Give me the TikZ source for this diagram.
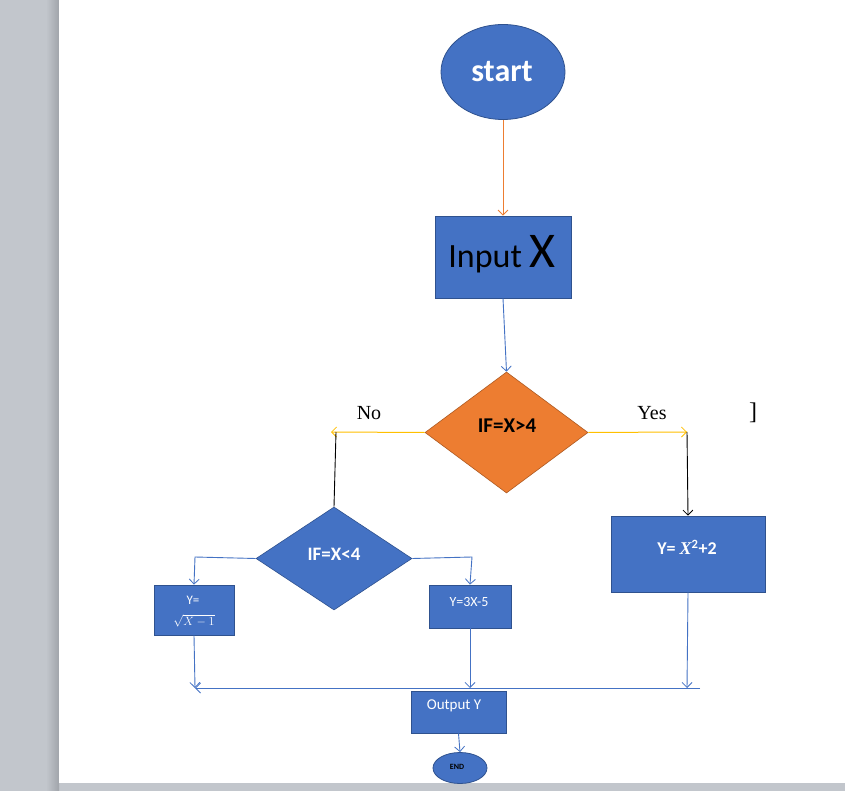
\documentclass[tikz,border=0pt]{standalone}
\usepackage{fontspec}
\setmainfont{Carlito}
\newfontfamily\timesf{Liberation Serif}
\usetikzlibrary{shapes.geometric,arrows.meta}
\definecolor{obl}{HTML}{4472C4}
\definecolor{obd}{HTML}{2F528F}
\definecolor{oor}{HTML}{ED7D31}
\definecolor{oorD}{HTML}{AE5A21}
\definecolor{oye}{HTML}{FFC000}
\definecolor{bggray}{HTML}{C2C6CC}
\definecolor{shad}{HTML}{A0A4AA}
\tikzset{
  x=1pt,y=-1pt,
  boxs/.style={draw=obd,fill=obl,line width=0.8pt,rectangle,inner sep=0pt},
  ells/.style={draw=obd,fill=obl,line width=0.8pt,ellipse,inner sep=0pt},
  dias/.style={diamond,inner sep=0pt,line width=0.6pt},
  tip/.style={-{Straight Barb[length=5pt,width=10pt,line width=0.8pt]}},
  bl/.style={draw=obl,line width=0.9pt},
  wt/.style={text=white,font=\bfseries},
}
\begin{document}
\begin{tikzpicture}
\useasboundingbox (0,0) rectangle (845,791);
% page background
\fill[bggray] (0,0) rectangle (845,791);
\shade[left color=bggray,right color=shad] (46,0) rectangle (59,791);
\fill[white] (59,0) rectangle (845,783);
% nodes
\node[ells,minimum width=124,minimum height=95] (start) at (503,72) {};
\node[wt,font=\bfseries\fontsize{32}{34}\selectfont] (starttxt) at (502,72) {start};
\node[boxs,minimum width=136,minimum height=82] (input) at (503,257) {};
\node[font=\fontsize{34}{36}\selectfont] (inputtxt) at (502,254) {Input \fontsize{50}{50}\selectfont X};
\node[dias,fill=oor,draw=oorD,minimum width=163,minimum height=121,aspect=1.35] (d1) at (506.5,432.5) {};
\node[font=\bfseries\fontsize{21}{23}\selectfont] (d1txt) at (507,426) {IF=X>4};
\node[dias,fill=obl,draw=obd,minimum width=156,minimum height=103] (d2) at (334,558.5) {};
\node[wt,font=\bfseries\fontsize{19}{21}\selectfont] (d2txt) at (334,554) {IF=X<4};
\node[boxs,minimum width=80,minimum height=50] (ysq) at (194,610) {};
\node[text=white,font=\fontsize{13}{15}\selectfont] (ysqa) at (193,600) {Y=};
\node[text=white,font=\fontsize{13}{15}\selectfont] (ysqb) at (194,621) {$\sqrt{X-1}$};
\node[boxs,minimum width=82,minimum height=43] (y3x) at (470,606.5) {};
\node[text=white,font=\fontsize{14}{16}\selectfont] (y3xtxt) at (469,602) {Y=3X-5};
\node[boxs,minimum width=154,minimum height=76] (yx2) at (688,554) {};
\node[wt,font=\bfseries\fontsize{18}{20}\selectfont] (yx2txt) at (687,547) {Y= {\timesf\bfseries\itshape X}\textsuperscript{2}+2};
\node[boxs,minimum width=95,minimum height=42] (out) at (458.5,712) {};
\node[text=white,font=\fontsize{15}{17}\selectfont] (outtxt) at (454,706) {Output Y};
\node[ells,minimum width=54,minimum height=31] (end) at (460,768) {};
\node[font=\bfseries\fontsize{8}{9}\selectfont] (endtxt) at (457,767) {END};
\node[font=\timesf\fontsize{20}{22}\selectfont] (no) at (369,413) {No};
\node[font=\timesf\fontsize{20}{22}\selectfont] (yes) at (652,413) {Yes};
\node[font=\timesf\fontsize{24}{26}\selectfont] (cur) at (753,413) {]};
% coordinates
\coordinate (nol) at (331,432);
\coordinate (yesr) at (687,432);
\coordinate (l1) at (195,557);
\coordinate (r1) at (472,557);
\coordinate (hl) at (195,688);
\coordinate (hr) at (700,688);
\coordinate (hm) at (470,688);
\coordinate (hy) at (687,688);
% connectors
\draw[tip,draw=oor,line width=0.7pt] (start.south) -- (input.north);
\draw[tip,bl] (input.south) -- (d1.north);
\draw[tip,draw=oye,line width=1pt] (d1.west) -- (nol);
\draw[tip,draw=oye,line width=1pt] (d1.east) -- (yesr);
\draw[black,line width=0.9pt] (336,432) -- (d2.north);
\draw[tip,black,line width=0.9pt] (yesr) -- (yx2.north);
\draw[tip,bl] (d2.west) -- (l1) -- (ysq.north);
\draw[tip,bl] (d2.east) -- (r1) -- (y3x.north);
\draw[tip,bl] (ysq.south) -- (hl);
\draw[tip,bl] (y3x.south) -- (hm);
\draw[tip,bl] (yx2.south) -- (hy);
\draw[tip,bl] (hr) -- (hl);
\draw[tip,bl] (out.south) -- (end.north);
\end{tikzpicture}
\end{document}
